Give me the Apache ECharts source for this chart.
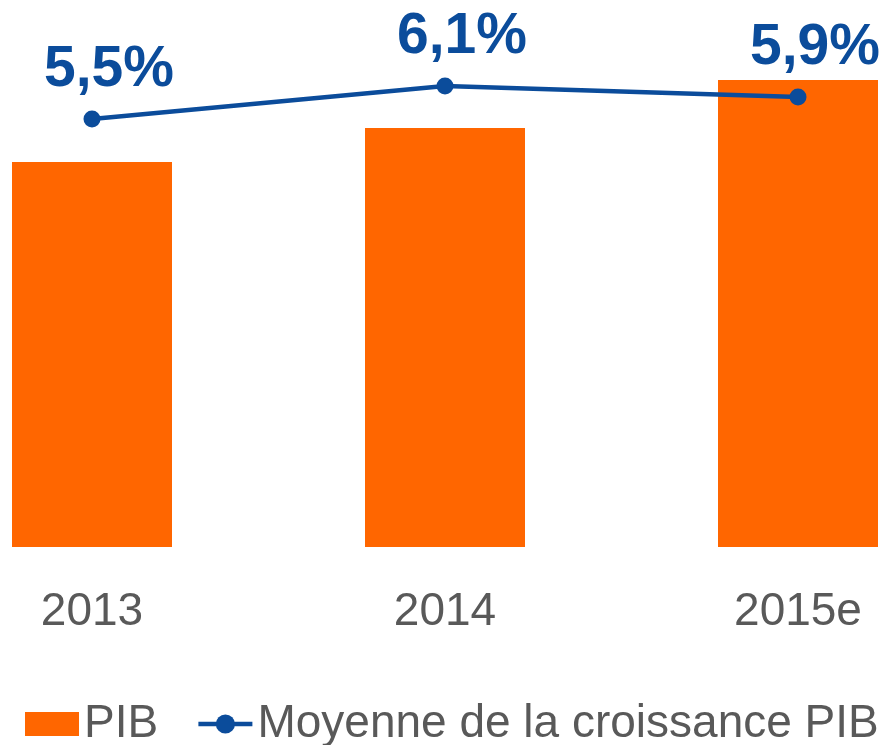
<!DOCTYPE html>
<html lang="fr">
<head>
    <meta charset="UTF-8">
    <title>PIB et croissance</title>
    <style>
        html, body { margin: 0; padding: 0; background: #fff; }
        #chart { width: 885px; height: 745px; }
    </style>
    <script src="https://cdn.jsdelivr.net/npm/echarts@6/dist/echarts.min.js"></script>
</head>
<body>
    <div id="chart"></div>
    <script>
        // données
        const annees = ['2013', '2014', '2015e'];
        const pib = [38.5, 41.9, 46.7];
        const croissance = [5.5, 6.1, 5.9];

        const orange = '#FF6600';
        const bleu = '#0B4C9B';
        const police = '"Liberation Sans", Arial, sans-serif';

        const chart = echarts.init(document.getElementById('chart'));

        chart.setOption({
            animation: false,
            textStyle: { fontFamily: police },
            grid: { left: 92, right: 87, top: 20, bottom: 198 },
            legend: {
                left: 25,
                top: 701,
                width: 870,
                padding: 0,
                itemWidth: 54,
                itemHeight: 24,
                itemGap: 38,
                textStyle: { fontSize: 46, color: '#595959', fontFamily: police },
                data: [
                    { name: 'PIB', icon: 'rect' },
                    { name: 'Moyenne de la croissance PIB', lineStyle: { width: 4.5 } }
                ]
            },
            xAxis: {
                type: 'category',
                data: annees,
                boundaryGap: false,
                axisLine: { show: false },
                axisTick: { show: false },
                axisLabel: { fontSize: 46, color: '#595959', margin: 42 }
            },
            yAxis: [
                { type: 'value', min: 0, max: 52.7, show: false },
                { type: 'value', min: -2.28, max: 7.3, show: false }
            ],
            series: [
                {
                    name: 'PIB',
                    type: 'bar',
                    data: pib,
                    barWidth: 160,
                    itemStyle: { color: orange }
                },
                {
                    name: 'Moyenne de la croissance PIB',
                    type: 'line',
                    yAxisIndex: 1,
                    data: croissance,
                    symbol: 'circle',
                    symbolSize: 17,
                    lineStyle: { color: bleu, width: 4.5 },
                    itemStyle: { color: bleu },
                    label: {
                        show: true,
                        position: 'top',
                        distance: 12,
                        offset: [17, 0],
                        fontSize: 57,
                        fontWeight: 'bold',
                        color: bleu,
                        formatter: p => p.value.toFixed(1).replace('.', ',') + '%'
                    }
                }
            ]
        });
    </script>
</body>
</html>
